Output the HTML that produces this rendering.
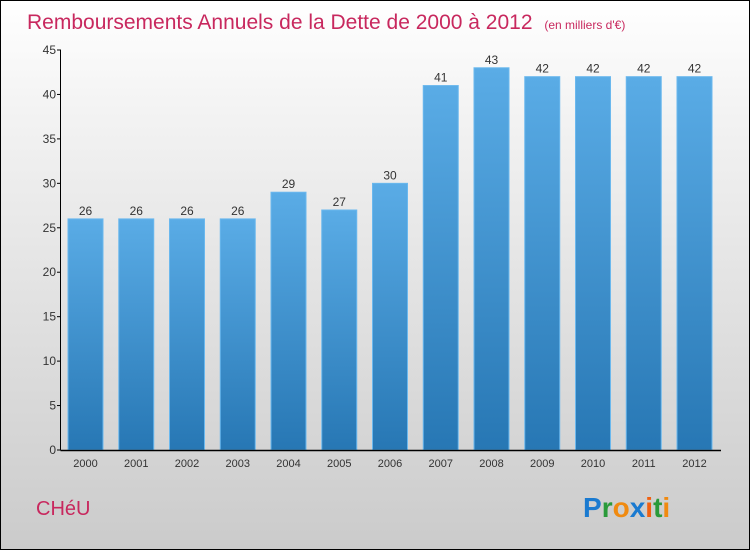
<!DOCTYPE html>
<html><head><meta charset="utf-8"><style>
body{margin:0}
#c{width:750px;height:550px;position:relative;box-sizing:border-box;border:1px solid #000;background:linear-gradient(#fff,#f3f3f3 20%,#cbcbcb);font-family:"Liberation Sans",sans-serif;overflow:hidden}
</style></head><body>
<div id="c">
<svg id="s" width="748" height="548" style="position:absolute;left:0;top:0">
<defs><linearGradient id="g" x1="0" y1="0" x2="0" y2="1"><stop offset="0" stop-color="#5aace6"/><stop offset="1" stop-color="#2777b4"/></linearGradient></defs>
<text x="26" y="28" font-size="21" fill="#c8285e">Remboursements Annuels de la Dette de 2000 à 2012 <tspan font-size="12" dx="6">(en milliers d'€)</tspan></text>
<text x="35" y="514" font-size="20" fill="#c8285e">CHéU</text>
<text x="582" y="516" font-size="28" font-weight="bold"><tspan fill="#1a7ad0">P</tspan><tspan fill="#2a9a3a">r</tspan><tspan fill="#f08a10">o</tspan><tspan fill="#1a7ad0">x</tspan><tspan fill="#f06010">i</tspan><tspan fill="#2a9a3a">t</tspan><tspan fill="#f08a10">i</tspan></text>
<g id="plot"></g>
</svg>
</div>
<script>
const years=["2000","2001","2002","2003","2004","2005","2006","2007","2008","2009","2010","2011","2012"];
const values=[26,26,26,26,29,27,30,41,43,42,42,42,42];
const yTicks=[0,5,10,15,20,25,30,35,40,45];
const NS="http://www.w3.org/2000/svg";
const g=document.getElementById('plot');
const y=v=>449-v*400/45;
const x=i=>84.5+i*50.75;
function el(t,a){const e=document.createElementNS(NS,t);for(const k in a)e.setAttribute(k,a[k]);g.appendChild(e);return e;}
values.forEach((v,i)=>{
 const r=el('rect',{x:x(i)-17.5,y:y(v),width:35,height:y(0)-y(v),fill:'url(#g)',stroke:'#6ab8ee','stroke-width':1});
 
 
 const t=el('text',{x:x(i),y:y(v)-4,'text-anchor':'middle','font-size':12,fill:'#333'});
 t.textContent=v;
 
 
 const xl=el('text',{x:x(i),y:466,'text-anchor':'middle','font-size':11,fill:'#333'});
 xl.textContent=years[i];
 
 
});
yTicks.forEach(v=>{
 const tk=el('line',{x1:56,x2:60,y1:y(v),y2:y(v),stroke:'#000'});
 
 
 const t=el('text',{x:55,y:y(v)+4,'text-anchor':'end','font-size':12,fill:'#333'});
 t.textContent=v;
 
 
});
const ya=el('line',{x1:59.5,x2:59.5,y1:y(45),y2:y(0),stroke:'#000'});


const xa=el('line',{x1:59.5,x2:720,y1:y(0)+0.5,y2:y(0)+0.5,stroke:'#000','stroke-width':1.5});


</script>
</body></html>
